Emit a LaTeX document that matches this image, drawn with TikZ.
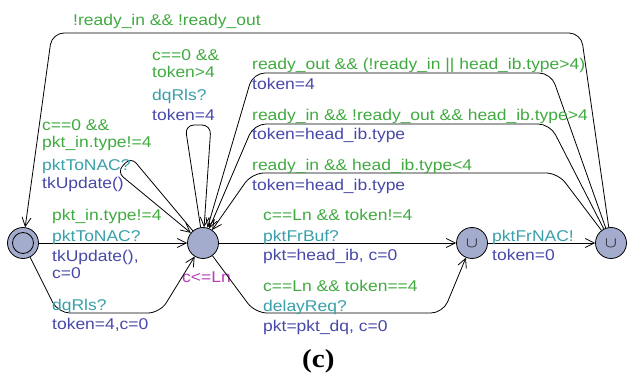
\documentclass[tikz,border=0pt]{standalone}
\usepackage{fontspec}
\setmainfont{Liberation Sans}[FakeStretch=1.12]
\newfontfamily\capfont{Liberation Serif}[FakeStretch=1.12]
\usepackage{xcolor}
\usetikzlibrary{arrows.meta}

\definecolor{grdgreen}{RGB}{64,170,64}
\definecolor{synccyan}{RGB}{56,160,168}
\definecolor{updblue}{RGB}{72,72,168}
\definecolor{invmag}{RGB}{184,60,184}
\definecolor{locfill}{RGB}{164,172,206}

\tikzset{
	loc/.style={circle,draw,fill=locfill,minimum size=31pt,inner sep=0pt,line width=0.8pt},
	urg/.style={loc,font=\fontsize{19}{19}\selectfont},
	edge/.style={line width=0.8pt,-{Straight Barb[length=9pt,width=9pt,line width=0.8pt]}},
	lbl/.style={anchor=base west,inner sep=0pt},
	guard/.style={lbl,text=grdgreen},
	sync/.style={lbl,text=synccyan},
	upd/.style={lbl,text=updblue},
}

\begin{document}
\begin{tikzpicture}[x=1pt,y=-1pt,font=\fontsize{15.6}{17}\selectfont]
		\useasboundingbox (0,0) rectangle (627,377);
		\node[loc] (init) at (23,243) {};
		\node[loc,minimum size=21pt] (initin) at (init) {};
		\node[loc] (c0) at (203,243) {};
		\node[urg] (u1) at (472,243) {\raisebox{-3pt}{\scalebox{1}[0.85]{$\cup$}}};
		\node[urg] (u2) at (611,243) {\raisebox{-3pt}{\scalebox{1}[0.85]{$\cup$}}};
		\node[lbl,text=invmag] (inv) at (182,282) {c<=Ln};
		%
		\draw[edge,rounded corners=12pt] (u2) -- (581,33) -- (52,33) -- (init);
		\draw[edge,rounded corners=12pt] (u2) -- (551,73) -- (253,73) -- (c0);
		\draw[edge,rounded corners=12pt] (u2) -- (550,124) -- (254,124) -- (c0);
		\draw[edge,rounded corners=12pt] (u2) -- (558,173) -- (252,173) -- (c0);
		\draw[edge,rounded corners=9pt] (c0) -- (185,125) -- (211,125) -- (c0);
		\draw[edge,rounded corners=8pt] (c0) -- (131,157) -- (117,172) -- (c0);
		\draw[edge] (init) -- (c0);
		\draw[edge,rounded corners=12pt] (init) -- (58,313) -- (160,313) -- (c0);
		\draw[edge] (c0) -- (u1);
		\draw[edge,rounded corners=12pt] (c0) -- (255,313) -- (443,313) -- (u1);
		\draw[edge] (u1) -- (u2);
		%
		\node[guard] (g1) at (73,26) {!ready\_in \&\& !ready\_out};
		\node[guard] (g2) at (252,70) {ready\_out \&\& (!ready\_in || head\_ib.type>4)};
		\node[upd] (a2) at (252,90) {token=4};
		\node[guard] (g3) at (252,121) {ready\_in \&\& !ready\_out \&\& head\_ib.type>4};
		\node[upd] (a3) at (252,140) {token=head\_ib.type};
		\node[guard] (g4) at (252,171) {ready\_in \&\& head\_ib.type<4};
		\node[upd] (a4) at (252,190) {token=head\_ib.type};
		%
		\node[guard] (g5a) at (152,61) {c==0 \&\&};
		\node[guard] (g5b) at (152,78) {token>4};
		\node[sync] (s5) at (152,101) {dqRls?};
		\node[upd] (a5) at (152,121) {token=4};
		%
		\node[guard] (g6a) at (42,131) {c==0 \&\&};
		\node[guard] (g6b) at (42,148) {pkt\_in.type!=4};
		\node[sync] (s6) at (42,171) {pktToNAC?};
		\node[upd] (a6) at (42,189) {tkUpdate()};
		%
		\node[guard] (g7) at (52,220) {pkt\_in.type!=4};
		\node[sync] (s7) at (52,241) {pktToNAC?};
		\node[upd] (a7a) at (52,261) {tkUpdate(),};
		\node[upd] (a7b) at (52,278) {c=0};
		\node[sync] (s8) at (52,310) {dqRls?};
		\node[upd] (a8) at (52,329) {token=4,c=0};
		%
		\node[guard] (g9) at (263,221) {c==Ln \&\& token!=4};
		\node[sync] (s9) at (263,241) {pktFrBuf?};
		\node[upd] (a9) at (263,260) {pkt=head\_ib, c=0};
		\node[guard] (g10) at (263,291) {c==Ln \&\& token==4};
		\node[sync] (s10) at (263,311) {delayReq?};
		\node[upd] (a10) at (263,331) {pkt=pkt\_dq, c=0};
		\node[sync] (s11) at (492,241) {pktFrNAC!};
		\node[upd] (a11) at (492,260) {token=0};
		%
		\node[lbl,font=\capfont\bfseries\fontsize{26}{26}\selectfont] (cap) at (302,367) {(c)};
	  \end{tikzpicture}
\end{document}
